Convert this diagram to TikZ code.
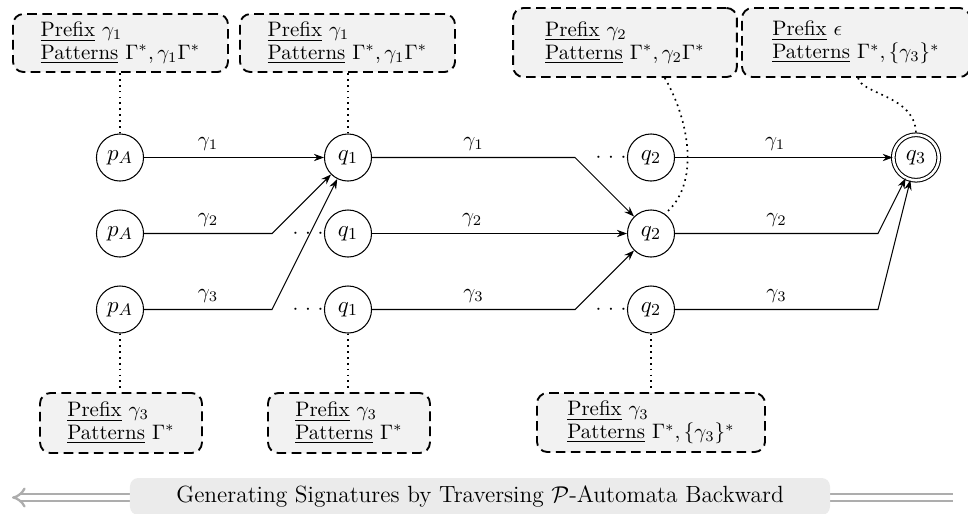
\documentclass[tikz,border=0pt]{standalone}
\usetikzlibrary{arrows.meta,positioning}
\begin{document}
\begin{tikzpicture}[x=0.478pt,y=-0.478pt,
  st/.style={circle,draw,line width=0.5pt,minimum size=22.5pt,inner sep=0pt,font=\fontsize{11}{13}\selectfont},
  acc/.style={circle,draw,line width=0.5pt,minimum size=21.75pt,inner sep=0pt,double,double distance=1.25pt,font=\fontsize{11}{13}\selectfont},
  info/.style={draw,rounded corners=5pt,dash pattern=on 4.6pt off 2.6pt,line width=0.9pt,fill=black!5,align=left,inner sep=0pt,font=\fontsize{10}{10.9}\selectfont},
  link/.style={thick,dotted},
  tr/.style={line width=0.5pt,-{Stealth[length=4.8pt,width=3.5pt]}},
  lab/.style={above,inner sep=3.3pt},
  dotsnode/.style={inner sep=0pt}
]
\useasboundingbox (0,0) rectangle (968,513);

% states
\node[st] (pA1) at (120,157.5) {$p_A$};
\node[st] (pA2) at (120,233.5) {$p_A$};
\node[st] (pA3) at (120,309.5) {$p_A$};
\node[st] (q1a) at (348,157.5) {$q_1$};
\node[st] (q1b) at (348,233.5) {$q_1$};
\node[st] (q1c) at (348,309.5) {$q_1$};
\node[st] (q2a) at (651,157.5) {$q_2$};
\node[st] (q2b) at (651,233.5) {$q_2$};
\node[st] (q2c) at (651,309.5) {$q_2$};
\node[acc] (q3) at (916,157.5) {$q_3$};

% dots
\node[dotsnode,left=0pt of q1b] (d1) {${\cdot}\hspace{3.2pt}{\cdot}\hspace{3.2pt}{\cdot}$};
\node[dotsnode,left=0pt of q1c] (d2) {${\cdot}\hspace{3.2pt}{\cdot}\hspace{3.2pt}{\cdot}$};
\node[dotsnode,left=0pt of q2a] (d3) {${\cdot}\hspace{3.2pt}{\cdot}\hspace{3.2pt}{\cdot}$};
\node[dotsnode,left=0pt of q2c] (d4) {${\cdot}\hspace{3.2pt}{\cdot}\hspace{3.2pt}{\cdot}$};

% bend points
\coordinate (b21) at (272,233.5);
\coordinate (b31) at (272,309.5);
\coordinate (b12) at (575,157.5);
\coordinate (b32) at (575,309.5);
\coordinate (b23) at (878,233.5);
\coordinate (b33) at (878,309.5);

% transitions
\draw[tr] (pA1.east) -- node[lab,pos=0.356]{$\gamma_1$} (pA1.east -| q1a.west);
\draw[tr] (pA2.east) -- (b21) node[lab,midway]{$\gamma_2$} -- (q1a);
\draw[tr] (pA3.east) -- (b31) node[lab,midway]{$\gamma_3$} -- (q1a);
\draw[tr] (q1a.east) -- (b12) node[lab,midway]{$\gamma_1$} -- (q2b);
\draw[tr] (q1b.east) -- node[lab,pos=0.393]{$\gamma_2$} (q1b.east -| q2b.west);
\draw[tr] (q1c.east) -- (b32) node[lab,midway]{$\gamma_3$} -- (q2b);
\draw[tr] (q2a.east) -- node[lab,pos=0.46]{$\gamma_1$} (q2a.east -| q3.west);
\draw[tr] (q2b.east) -- (b23) node[lab,midway]{$\gamma_2$} -- (q3);
\draw[tr] (q2c.east) -- (b33) node[lab,midway]{$\gamma_3$} -- (q3);

% info boxes
\node[info,minimum width=102.8pt,minimum height=27.7pt] (bx1) at (120.5,43)
  {\underline{Prefix} $\gamma_1$\\\underline{Patterns} $\Gamma^*,\gamma_1\Gamma^*$};
\node[info,minimum width=102.8pt,minimum height=27.7pt] (bx2) at (347.5,43)
  {\underline{Prefix} $\gamma_1$\\\underline{Patterns} $\Gamma^*,\gamma_1\Gamma^*$};
\node[info,minimum width=107pt,minimum height=33pt] (bx3) at (625,42.5)
  {\underline{Prefix} $\gamma_2$\\\underline{Patterns} $\Gamma^*,\gamma_2\Gamma^*$};
\node[info,minimum width=109pt,minimum height=33pt] (bx4) at (856,42.5)
  {\underline{Prefix} $\epsilon$\\\underline{Patterns} $\Gamma^*,\{\gamma_3\}^*$};
\node[info,minimum width=77.4pt,minimum height=28.7pt] (bx5) at (121,423)
  {\underline{Prefix} $\gamma_3$\\\underline{Patterns} $\Gamma^*$};
\node[info,minimum width=77.4pt,minimum height=28.7pt] (bx6) at (349,423)
  {\underline{Prefix} $\gamma_3$\\\underline{Patterns} $\Gamma^*$};
\node[info,minimum width=109pt,minimum height=28.2pt] (bx7) at (651,422.5)
  {\underline{Prefix} $\gamma_3$\\\underline{Patterns} $\Gamma^*,\{\gamma_3\}^*$};

% dotted links
\draw[link] (pA1.north) -- (pA1.north |- bx1.south);
\draw[link] (q1a.north) -- (q1a.north |- bx2.south);
\draw[link] ([xshift=19pt]bx3.south) .. controls +(25,43) and +(35.5,-28.7) .. (q2b.55);
\draw[link] ([xshift=1pt]bx4.south) .. controls +(4,17) and +(0,-39) .. (q3.north);
\draw[link] (pA3.south) -- (pA3.south |- bx5.north);
\draw[link] (q1c.south) -- (q1c.south |- bx6.north);
\draw[link] (q2c.south) -- (q2c.south |- bx7.north);

% bottom arrow and title
\coordinate (arrR) at (953,497.5);
\coordinate (arrL) at (12,497.5);
\draw[black!32,line width=1.1pt,double=white,double distance=2.1pt,-{Implies[scale=1.7]}] (arrR) -- (arrL);
\node[fill=black!8,rounded corners=4pt,minimum width=334.6pt,minimum height=17.7pt,inner sep=0pt,
  font=\fontsize{11.2}{13}\selectfont] (ttl) at (480,496.5)
  {Generating Signatures by Traversing $\mathcal{P}$-Automata Backward};
\end{tikzpicture}
\end{document}
